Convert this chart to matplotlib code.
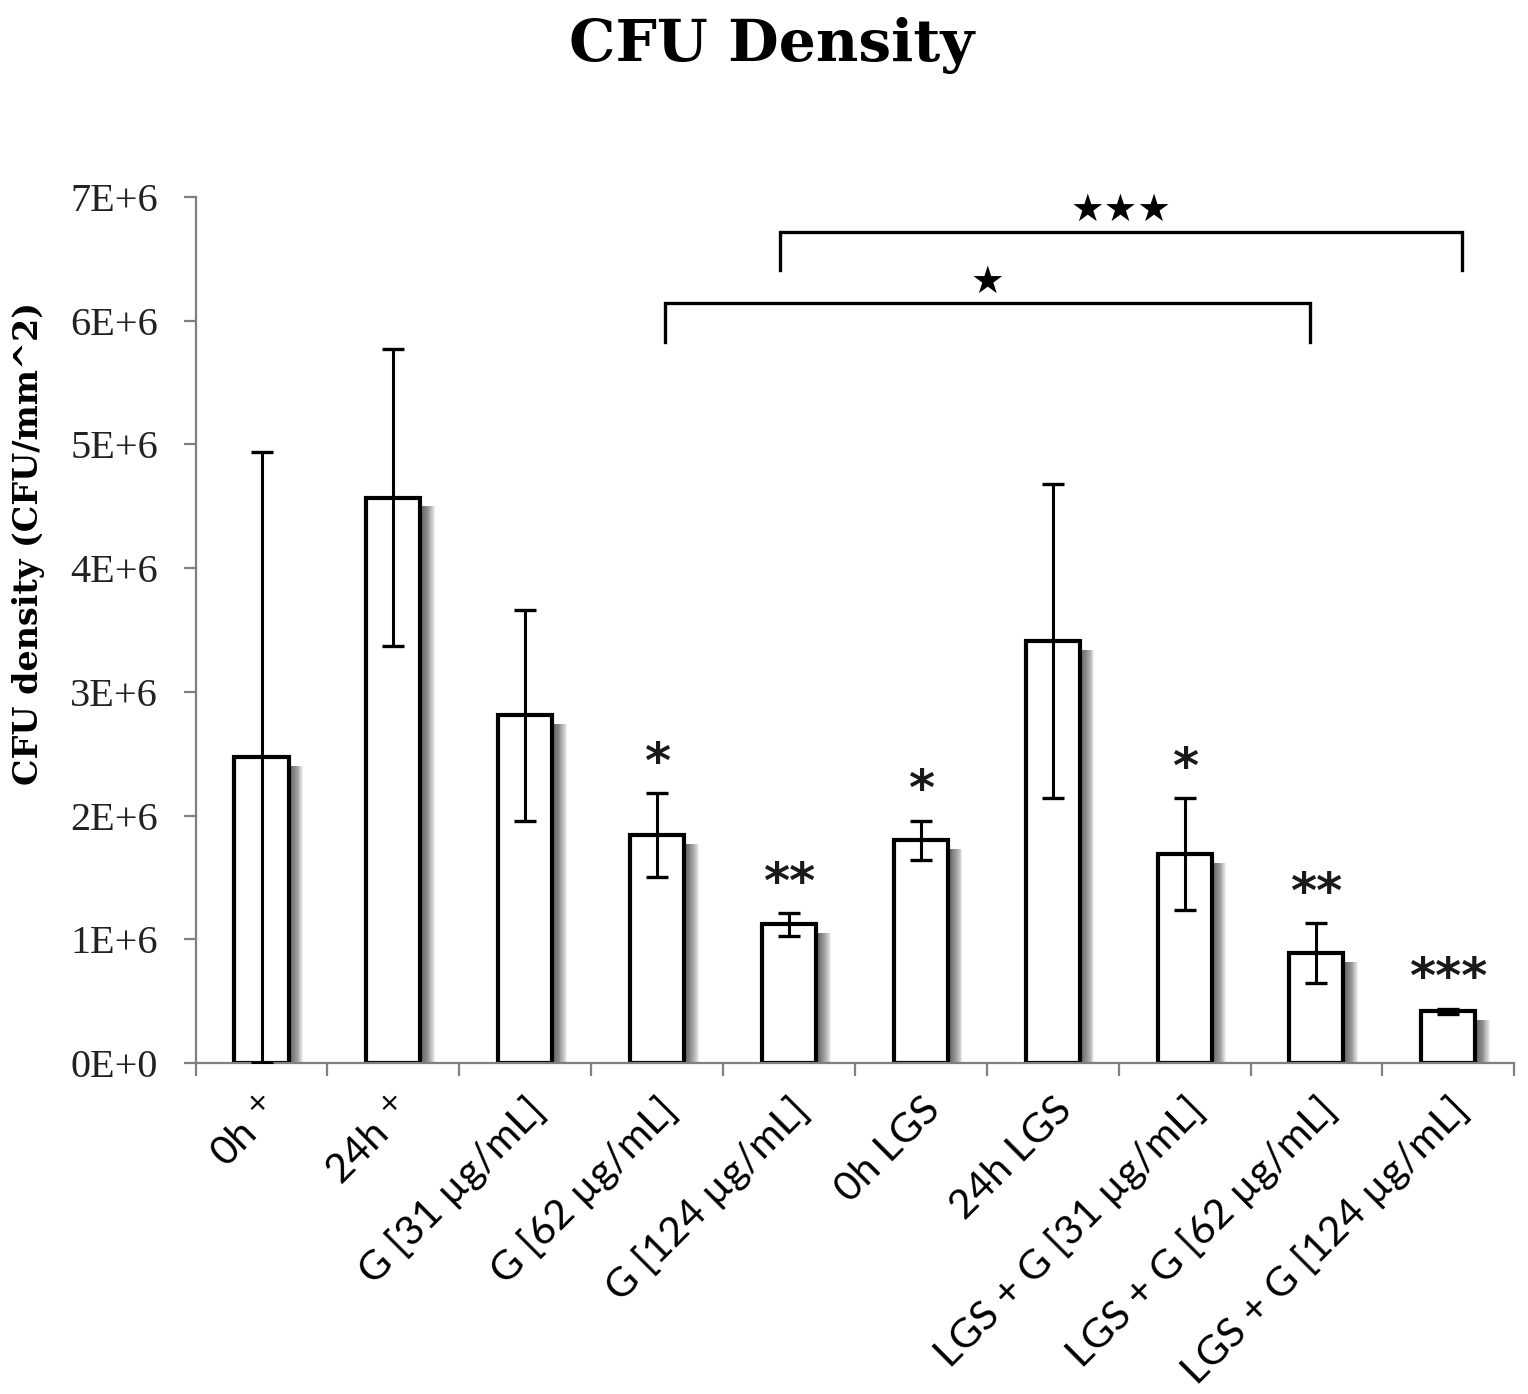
# CFU density bar chart with error bars and significance marks

import numpy as np
import matplotlib.pyplot as plt
from matplotlib.ticker import FuncFormatter

# Data
groups = ['0h $^{+}$', '24h $^{+}$', 'G [31 \u00b5g/mL]', 'G [62 \u00b5g/mL]',
          'G [124 \u00b5g/mL]', '0h LGS', '24h LGS',
          'LGS + G [31 \u00b5g/mL]', 'LGS + G [62 \u00b5g/mL]',
          'LGS + G [124 \u00b5g/mL]']
cfu_mean = [2.47e6, 4.57e6, 2.81e6, 1.84e6, 1.12e6,
            1.80e6, 3.41e6, 1.69e6, 0.89e6, 0.42e6]
cfu_err = [2.47e6, 1.20e6, 0.85e6, 0.34e6, 0.09e6,
           0.16e6, 1.27e6, 0.45e6, 0.24e6, 0.02e6]
marks = ['', '', '', '*', '**', '*', '', '*', '**', '***']

# brackets: (left group, right group, label, height)
brackets = [(3, 8, '\u2605', 6.14e6), (4, 9, '\u2605\u2605\u2605', 6.72e6)]
# small horizontal nudges of the bracket ends (as drawn in the original)
nudge = [(0.06, -0.05), (-0.07, 0.1)]

x = np.arange(len(groups))
w = 0.41

fig = plt.figure(figsize=(15.28, 13.94), dpi=100)
ax = fig.add_axes([0.128, 0.2374, 0.863, 0.6213])

# soft drop shadow to the right of each bar (stacked translucent strips)
n_sh = 16
sh_w = 0.11 / n_sh
for k in range(n_sh):
    ax.bar(x + w / 2 - 0.01, np.array(cfu_mean) - 0.07e6,
           width=0.01 + (k + 1) * sh_w, bottom=0, align='edge',
           color='#3a3a3a', alpha=0.085, linewidth=0, zorder=1)

ax.bar(x, cfu_mean, width=w, color='white', edgecolor='black',
       linewidth=3.0, zorder=2)
ax.errorbar(x, cfu_mean, yerr=cfu_err, fmt='none', ecolor='black',
            elinewidth=2.2, capsize=8, capthick=2.4, zorder=3)

# asterisks above error bars
for xi, m, e, v in zip(x, marks, cfu_err, cfu_mean):
    if m:
        ax.annotate(m, (xi, v + e), xytext=(0, 4), textcoords='offset points',
                    ha='center', va='bottom', fontsize=36, fontweight='bold',
                    family='DejaVu Sans', color='#1a1a1a')

# significance brackets
for (i0, i1, lab, top), (d0, d1) in zip(brackets, nudge):
    x0, x1 = i0 + d0, i1 + d1
    drop = 0.31e6
    ax.plot([x0, x0, x1, x1], [top - drop, top, top, top - drop],
            color='black', lw=2.4, zorder=3, solid_joinstyle='miter')
    ax.text((x0 + x1) / 2, top + 0.02e6, lab, ha='center', va='bottom',
            fontsize=27, family='DejaVu Sans', color='black')

# axes styling
ax.set_xlim(-0.5, len(groups) - 0.5)
ax.set_ylim(0, 7e6)
for s in ['top', 'right']:
    ax.spines[s].set_visible(False)
for s in ['left', 'bottom']:
    ax.spines[s].set_color('#7f7f7f')
    ax.spines[s].set_linewidth(1.6)

ax.set_yticks(np.arange(0, 7.01e6, 1e6))
ax.yaxis.set_major_formatter(FuncFormatter(lambda v, p: f'{int(round(v / 1e6))}E+{6 if v else 0}'))
ax.tick_params(axis='y', length=9, width=1.6, color='#7f7f7f', pad=18,
               labelsize=29, labelcolor='#222222')
for lab in ax.get_yticklabels():
    lab.set_family('Liberation Serif')

ax.set_xticks(np.arange(-0.5, len(groups), 1.0))
ax.set_xticklabels([])
ax.set_xticks(x, minor=True)
ax.set_xticklabels(groups, minor=True, rotation=45, ha='right',
                   rotation_mode='anchor', fontsize=29.5,
                   family=['Lato', 'DejaVu Sans'])
ax.tick_params(axis='x', which='major', length=9, width=1.6, color='#7f7f7f')
ax.tick_params(axis='x', which='minor', length=0, pad=20)

ax.set_ylabel('CFU density (CFU/mm^2)', fontsize=24, fontweight='bold',
              family='DejaVu Serif')
ax.yaxis.set_label_coords(-0.114, 0.6)

fig.suptitle('CFU Density', x=0.505, y=0.988, fontsize=42, fontweight='bold',
             family='DejaVu Serif')

plt.savefig('out.png', dpi=100, facecolor='white')
